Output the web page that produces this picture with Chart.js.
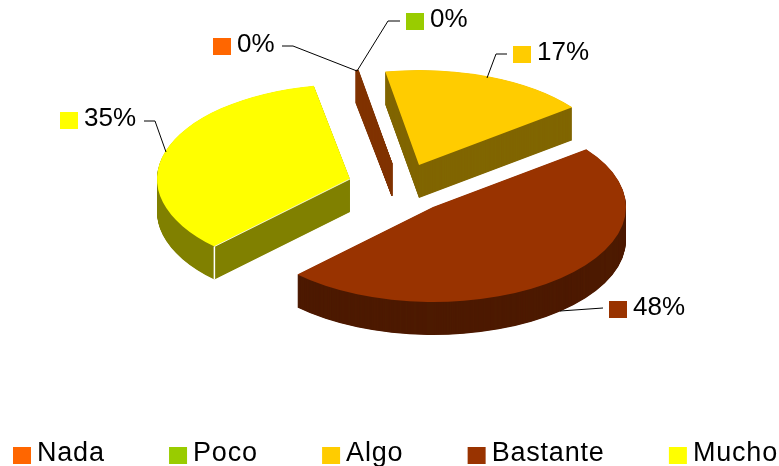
<!DOCTYPE html>
<html lang="es">
  <head>
    <meta charset="UTF-8" />
    <title>Pie 3D</title>
    <script src="https://cdn.jsdelivr.net/npm/chart.js"></script>
    <style>
      html, body { margin: 0; padding: 0; background: #fff; }
      canvas { display: block; }
    </style>
  </head>
  <body>
    <canvas id="pieChart" width="779" height="466"></canvas>
    <script>
      // data
      var categories = ["Nada", "Poco", "Algo", "Bastante", "Mucho"];
      var shares = [0.1, 0.1, 17.4, 47.8, 34.6];

      // styles
      var topColors = ["#ff6600", "#99cc00", "#ffcc00", "#993300", "#ffff00"];
      var sideColors = ["#803300", "#803300", "#806600", "#4d1a00", "#808000"];

      // layout, all in canvas pixels
      var tilt = 0.492;
      var depth = 33;
      var pieRadius = 193;
      var vertices = [[392, 163], [392, 163], [419, 165], [433, 207], [350, 179]];
      var drawOrder = [1, 0, 2, 4, 3];
      var labelBoxes = [[213, 38], [406, 13], [513, 46], [609, 301], [60, 112]];
      var leaders = [
        [[282, 46], [293, 46], [357, 71]],
        [[400, 21], [388, 21], [357, 71]],
        [[507, 54], [496, 54], [487, 78]],
        [[603, 308], [560, 311]],
        [[144, 121], [155, 121], [166, 152]],
      ];
      var legendStart = 13;
      var legendGap = 64.3;
      var legendY = 447;
      var boxW = 18;
      var boxH = 17;
      var labelFont = "26px 'Liberation Sans', Arial, sans-serif";
      var legendFont = "27px 'Liberation Sans', Arial, sans-serif";

      function drawSlice(ctx, arc, i) {
        var saved = arc.options;
        // the 0% slices have no visible top, only a thin wall
        var sliver = shares[i] < 1;
        ctx.save();
        ctx.translate(vertices[i][0], vertices[i][1]);

        // side walls: the same arc swept downwards in the darker colour
        arc.options = Object.assign({}, saved, {
          backgroundColor: sideColors[i],
          borderColor: sideColors[i],
          borderWidth: sliver ? 1 : 0,
        });
        for (var d = depth; d > 0; d -= 0.5) {
          ctx.save();
          ctx.translate(0, d);
          ctx.scale(1, tilt);
          ctx.translate(-arc.x, -arc.y);
          arc.draw(ctx);
          ctx.restore();
        }
        arc.options = saved;

        if (!sliver) {
          ctx.save();
          ctx.scale(1, tilt);
          ctx.translate(-arc.x, -arc.y);
          arc.draw(ctx);
          ctx.restore();
        }
        ctx.restore();
      }

      // white seam on the front corner of the last slice
      function drawSeam(ctx, arc, i) {
        var cx = vertices[i][0] + Math.cos(arc.startAngle) * arc.outerRadius;
        var cy = vertices[i][1] + Math.sin(arc.startAngle) * arc.outerRadius * tilt;
        ctx.save();
        ctx.strokeStyle = "#ffffff";
        ctx.lineWidth = 1.5;
        ctx.beginPath();
        ctx.moveTo(cx, cy);
        ctx.lineTo(cx, cy + depth);
        ctx.stroke();
        ctx.lineWidth = 0.8;
        ctx.beginPath();
        ctx.moveTo(vertices[i][0], vertices[i][1]);
        ctx.lineTo(cx, cy);
        ctx.stroke();
        ctx.restore();
      }

      function drawLabels(ctx) {
        ctx.save();
        ctx.font = labelFont;
        ctx.textBaseline = "alphabetic";
        ctx.textAlign = "left";

        ctx.strokeStyle = "#000000";
        ctx.lineWidth = 1;
        leaders.forEach(function (points) {
          ctx.beginPath();
          points.forEach(function (p, n) {
            if (n === 0) ctx.moveTo(p[0], p[1]);
            else ctx.lineTo(p[0], p[1]);
          });
          ctx.stroke();
        });

        shares.forEach(function (value, i) {
          var x = labelBoxes[i][0];
          var y = labelBoxes[i][1];
          ctx.fillStyle = topColors[i];
          ctx.fillRect(x, y, boxW, boxH);
          ctx.fillStyle = "#000000";
          ctx.fillText(Math.round(value) + "%", x + boxW + 6, y + boxH - 3);
        });

        // legend row
        ctx.font = legendFont;
        ctx.letterSpacing = "0.8px";
        var x = legendStart;
        categories.forEach(function (name, i) {
          ctx.fillStyle = topColors[i];
          ctx.fillRect(x, legendY, boxW, boxH);
          ctx.fillStyle = "#000000";
          ctx.fillText(name, x + boxW + 6, legendY + boxH - 3);
          x += boxW + 6 + ctx.measureText(name).width + legendGap;
        });
        ctx.restore();
      }

      var pie3d = {
        id: "pie3d",
        beforeDatasetsDraw: function (chart) {
          var ctx = chart.ctx;
          var arcs = chart.getDatasetMeta(0).data;
          drawOrder.forEach(function (i) {
            drawSlice(ctx, arcs[i], i);
          });
          drawSeam(ctx, arcs[4], 4);
          drawLabels(ctx);
          return false;
        },
      };

      new Chart(document.getElementById("pieChart").getContext("2d"), {
        type: "pie",
        data: {
          labels: categories,
          datasets: [
            {
              data: shares,
              backgroundColor: topColors,
              borderWidth: 0,
            },
          ],
        },
        options: {
          responsive: false,
          animation: false,
          rotation: -10.8,
          radius: pieRadius,
          plugins: {
            legend: { display: false },
            tooltip: { enabled: false },
          },
        },
        plugins: [pie3d],
      });
    </script>
  </body>
</html>
